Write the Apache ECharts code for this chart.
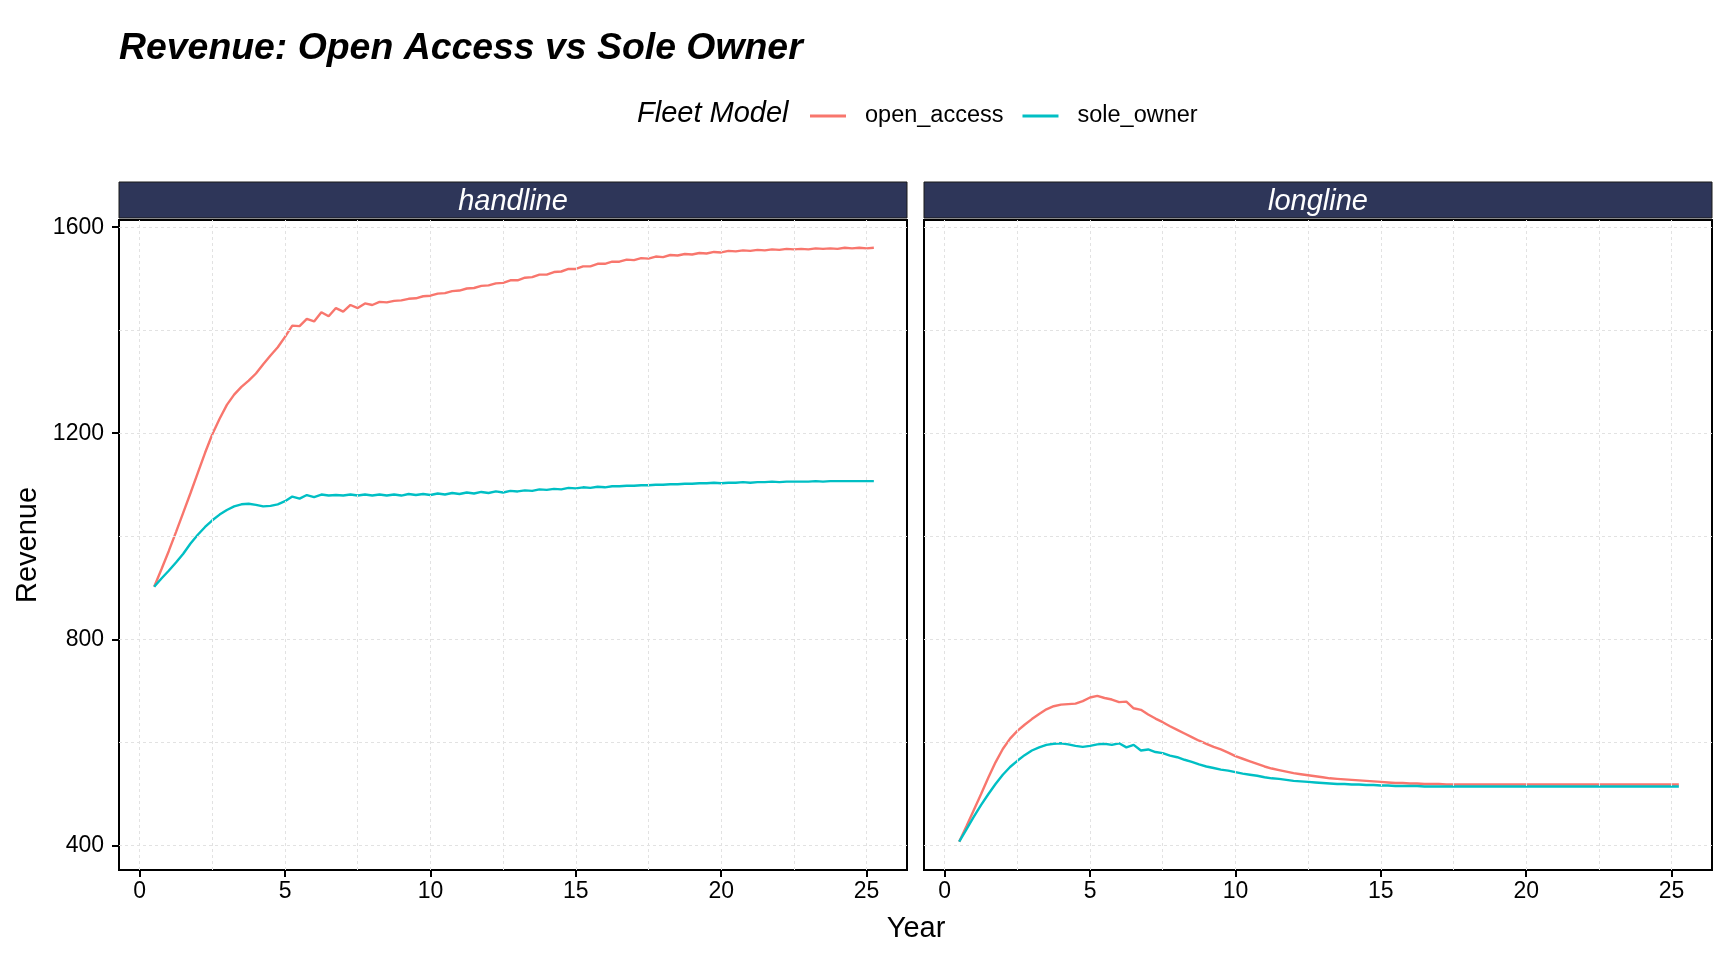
<!DOCTYPE html>
<html>
<head>
<meta charset="utf-8">
<script src="https://cdn.jsdelivr.net/npm/echarts@6/dist/echarts.min.js"></script>
<style>
html,body{margin:0;padding:0;background:#fff;}
#chart{width:1728px;height:960px;}
</style>
</head>
<body>
<div id="chart"></div>
<script>
// ---- data ----
const years = [0.5,0.75,1,1.25,1.5,1.75,2,2.25,2.5,2.75,
3,3.25,3.5,3.75,4,4.25,4.5,4.75,5,5.25,
5.5,5.75,6,6.25,6.5,6.75,7,7.25,7.5,7.75,
8,8.25,8.5,8.75,9,9.25,9.5,9.75,10,10.25,
10.5,10.75,11,11.25,11.5,11.75,12,12.25,12.5,12.75,
13,13.25,13.5,13.75,14,14.25,14.5,14.75,15,15.25,
15.5,15.75,16,16.25,16.5,16.75,17,17.25,17.5,17.75,
18,18.25,18.5,18.75,19,19.25,19.5,19.75,20,20.25,
20.5,20.75,21,21.25,21.5,21.75,22,22.25,22.5,22.75,
23,23.25,23.5,23.75,24,24.25,24.5,24.75,25,25.25];

const handlineOpenAccess = [902,936,971,1008,1046,1084,1123,1162,1198,1228,
1255,1275,1290,1302,1316,1334,1351,1367,1387,1409,
1408,1422,1417,1435,1427,1443,1436,1449,1443,1452,
1449,1455,1454,1457,1458,1461,1462,1466,1467,1471,
1472,1476,1477,1481,1482,1486,1487,1491,1492,1497,
1497,1502,1503,1508,1508,1513,1514,1519,1519,1524,
1524,1529,1529,1533,1533,1537,1536,1540,1539,1543,
1542,1546,1545,1548,1547,1550,1549,1552,1551,1554,
1553,1555,1554,1556,1555,1557,1556,1558,1557,1558,
1557,1559,1558,1559,1558,1560,1559,1560,1559,1560];

const handlineSoleOwner = [902,918,933,949,966,986,1003,1018,1031,1042,
1051,1058,1062,1063,1061,1058,1059,1062,1068,1077,
1073,1080,1076,1081,1079,1080,1079,1081,1079,1081,
1079,1081,1079,1081,1079,1082,1080,1082,1080,1083,
1081,1084,1082,1085,1083,1086,1084,1087,1085,1088,
1087,1089,1088,1091,1090,1092,1091,1094,1093,1095,
1094,1096,1095,1097,1097,1098,1098,1099,1099,1100,
1100,1101,1101,1102,1102,1103,1103,1104,1103,1104,
1104,1105,1104,1105,1105,1106,1105,1106,1106,1106,
1106,1107,1106,1107,1107,1107,1107,1107,1107,1107];

const longlineOpenAccess = [407,437,468,499,531,561,587,607,622,634,
645,655,664,670,673,674,675,680,687,690,
686,683,678,679,666,663,654,646,639,631,
624,617,610,603,597,591,586,580,573,568,
563,558,553,549,546,543,540,538,536,534,
532,530,529,528,527,526,525,524,523,522,
521,521,520,520,519,519,519,518,518,518,
518,518,518,518,518,518,518,518,518,518,
518,518,518,518,518,518,518,518,518,518,
518,518,518,518,518,518,518,518,518,518];

const longlineSoleOwner = [407,431,455,478,499,519,537,552,564,575,
584,590,595,597,598,596,593,591,593,596,
597,595,598,590,595,584,586,581,579,574,
571,566,562,557,553,550,547,545,542,539,
537,535,532,530,529,527,525,524,523,522,
521,520,519,519,518,518,517,517,516,516,
515,515,515,515,514,514,514,514,514,514,
514,514,514,514,514,514,514,514,514,514,
514,514,514,514,514,514,514,514,514,514,
514,514,514,514,514,514,514,514,514,514];

const panels = ['handline', 'longline'];
const seriesNames = ['open_access', 'sole_owner'];
const yTicks = [400, 800, 1200, 1600];
const xTicks = [0, 5, 10, 15, 20, 25];
const yMinorGrid = [600, 1000, 1400];
const xMinorGrid = [2.5, 7.5, 12.5, 17.5, 22.5];

// ---- chart ----
const FONT = '"Liberation Sans", Arial, Helvetica, sans-serif';
const COLORS = ['#F8766D', '#00BFC4'];
const pairs = arr => years.map((y, i) => [y, arr[i]]);
const panelData = [
  [handlineOpenAccess, handlineSoleOwner],
  [longlineOpenAccess, longlineSoleOwner]
];

const gridLeft = [119, 924];
const gridTop = 220, gridW = 788, gridH = 650;

const chart = echarts.init(document.getElementById('chart'), null, {renderer: 'canvas'});

const grids = gridLeft.map(l => ({
  left: l, top: gridTop, width: gridW, height: gridH,
  show: true, borderColor: '#000', borderWidth: 2, backgroundColor: 'transparent'
}));

const xAxes = gridLeft.map((l, i) => ({
  type: 'value', gridIndex: i, min: -0.71, max: 26.39, position: 'bottom',
  axisLine: {show: false, onZero: false},
  splitLine: {show: false},
  axisTick: {show: true, length: 7, customValues: xTicks, lineStyle: {color: '#000', width: 2}},
  axisLabel: {show: true, customValues: xTicks, margin: 10, color: '#000', fontSize: 23, fontFamily: FONT,
    formatter: v => String(v)}
}));

const yAxes = gridLeft.map((l, i) => ({
  type: 'value', gridIndex: i, min: 352, max: 1614, position: 'left',
  axisLine: {show: false, onZero: false},
  splitLine: {show: false},
  axisTick: {show: i === 0, length: 7, customValues: yTicks, lineStyle: {color: '#000', width: 2}},
  axisLabel: {show: i === 0, customValues: yTicks, margin: 15, color: '#000', fontSize: 23, fontFamily: FONT,
    formatter: v => String(v)}
}));

const series = [];
panels.forEach((p, i) => {
  // background grid lines (major + minor) drawn at axis values
  series.push({
    type: 'line', xAxisIndex: i, yAxisIndex: i, data: [], silent: true, z: 1,
    markLine: {
      silent: true, symbol: ['none', 'none'], label: {show: false},
      lineStyle: {color: '#e2e2e2', type: [3, 3], width: 1},
      emphasis: {disabled: true},
      data: yTicks.concat(yMinorGrid).map(v => ({yAxis: v}))
        .concat(xTicks.concat(xMinorGrid).map(v => ({xAxis: v})))
    }
  });
  seriesNames.forEach((n, j) => {
    series.push({
      name: n, type: 'line', xAxisIndex: i, yAxisIndex: i, z: 3,
      data: pairs(panelData[i][j]),
      showSymbol: false, symbol: 'none',
      lineStyle: {color: COLORS[j], width: 2.4},
      itemStyle: {color: COLORS[j]},
      emphasis: {disabled: true}
    });
  });
});

const graphics = [
  {type: 'text', x: 119, y: 49, style: {text: 'Revenue: Open Access vs Sole Owner', font: 'italic bold 37.4px ' + FONT, fill: '#000', align: 'left', verticalAlign: 'middle'}},
  {type: 'text', x: 637, y: 114, style: {text: 'Fleet Model', font: 'italic 29px ' + FONT, fill: '#000', align: 'left', verticalAlign: 'middle'}},
  {type: 'text', x: 916, y: 929, style: {text: 'Year', font: '29px ' + FONT, fill: '#000', align: 'center', verticalAlign: 'middle'}},
  {type: 'text', x: 28, y: 545, rotation: Math.PI / 2, style: {text: 'Revenue', font: '29px ' + FONT, fill: '#000', align: 'center', verticalAlign: 'middle'}}
];
panels.forEach((p, i) => {
  graphics.push({type: 'rect', shape: {x: gridLeft[i], y: 182, width: gridW, height: 36}, style: {fill: '#2e3659', stroke: '#1a1a1a', lineWidth: 1}});
  graphics.push({type: 'text', x: gridLeft[i] + gridW / 2, y: 202, style: {text: p, font: 'italic 29px ' + FONT, fill: '#fff', align: 'center', verticalAlign: 'middle'}});
});

chart.setOption({
  animation: false,
  backgroundColor: '#fff',
  grid: grids,
  xAxis: xAxes,
  yAxis: yAxes,
  legend: {
    data: seriesNames.map((n, j) => ({name: n, icon: 'rect', itemStyle: {color: COLORS[j]}})),
    left: 805, top: 99, orient: 'horizontal',
    itemWidth: 36, itemHeight: 3, itemGap: 19,
    selectedMode: false,
    textStyle: {fontSize: 23.5, fontFamily: FONT, color: '#000', padding: [0, 0, 0, 14]}
  },
  series: series,
  graphic: graphics
});
</script>
</body>
</html>
